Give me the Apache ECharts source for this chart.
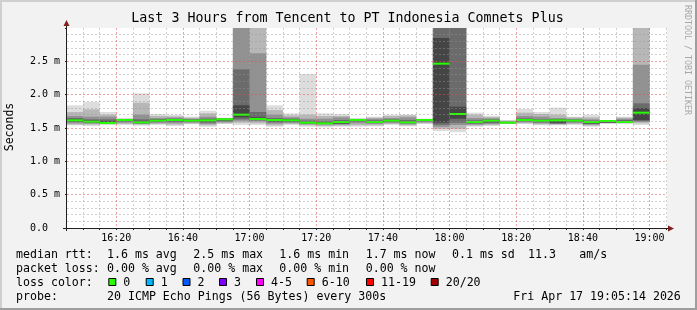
<!DOCTYPE html>
<html><head><meta charset="utf-8">
<script src="https://cdn.jsdelivr.net/npm/echarts@6/dist/echarts.min.js"></script>
<style>html,body{margin:0;padding:0;background:#f2f2f2}#c{width:697px;height:310px}</style>
</head><body><div id="c"></div><script>
// ---- data (ms) ----
const endTimes = ['16:10','16:15','16:20','16:25','16:30','16:35','16:40','16:45','16:50','16:55',
  '17:00','17:05','17:10','17:15','17:20','17:25','17:30','17:35','17:40','17:45','17:50','17:55',
  '18:00','18:05','18:10','18:15','18:20','18:25','18:30','18:35','18:40','18:45','18:50','18:55','19:00'];
const stepMinutes = 5;
const rangeStart = '16:05:14';
const rangeEnd = '19:05:14';
const median = [1.615,1.595,1.575,1.62,1.585,1.61,1.62,1.61,1.615,1.63, 1.70,1.635,1.62,1.615,1.58,1.57,1.59,1.62,1.59,1.61, 1.585,1.62,2.465,1.71,1.59,1.61,1.58,1.62,1.61,1.615, 1.61,1.59,1.605,1.59,1.73];
const loss = [0,0,0,0,0,0,0,0,0,0, 0,0,0,0,0,0,0,0,0,0, 0,0,0,0,0,0,0,0,0,0, 0,0,0,0,0];
const pingMin = [1.54,1.53,1.55,1.545,1.535,1.545,1.53,1.555,1.52,1.56, 1.545,1.545,1.52,1.545,1.52,1.51,1.52,1.52,1.525,1.545, 1.525,1.56,1.455,1.435,1.52,1.53,1.56,1.56,1.54,1.54, 1.545,1.52,1.565,1.565,1.545];
const pingMax = [1.84,1.89,1.74,1.645,2.02,1.71,1.70,1.67,1.76,1.655, 3.5,3.5,1.84,1.72,2.31,1.72,1.71,1.645,1.67,1.70, 1.70,1.64,3.5,3.5,1.73,1.685,1.62,1.785,1.74,1.805, 1.67,1.70,1.62,1.67,3.5];
const smoke2Lo = [1.55,1.55,1.555,1.56,1.55,1.56,1.55,1.565,1.54,1.57, 1.58,1.57,1.54,1.56,1.54,1.53,1.535,1.54,1.54,1.56, 1.54,1.57,1.49,1.49,1.535,1.545,1.565,1.57,1.555,1.55, 1.56,1.535,1.57,1.57,1.57];
const smoke2Hi = [1.74,1.78,1.70,1.64,1.88,1.68,1.675,1.655,1.72,1.65, 3.5,3.5,1.77,1.69,1.70,1.68,1.68,1.64,1.655,1.68, 1.69,1.636,3.5,3.5,1.70,1.665,1.61,1.73,1.71,1.70, 1.66,1.66,1.618,1.655,3.5];
const smoke3Lo = [1.57,1.565,1.56,1.58,1.56,1.575,1.57,1.58,1.56,1.585, 1.61,1.60,1.565,1.575,1.555,1.55,1.55,1.57,1.56,1.575, 1.555,1.585,1.52,1.545,1.55,1.56,1.57,1.585,1.57,1.56, 1.575,1.55,1.575,1.575,1.59];
const smoke3Hi = [1.68,1.67,1.67,1.635,1.70,1.65,1.655,1.64,1.67,1.645, 3.5,2.62,1.70,1.66,1.64,1.64,1.66,1.635,1.64,1.65, 1.66,1.633,3.5,3.5,1.65,1.645,1.60,1.68,1.67,1.65, 1.64,1.63,1.615,1.64,2.45];
const smoke4Lo = [1.59,1.575,1.565,1.595,1.57,1.59,1.59,1.59,1.58,1.60, 1.63,1.615,1.585,1.59,1.565,1.56,1.56,1.595,1.575,1.59, 1.57,1.60,1.55,1.58,1.565,1.575,1.572,1.60,1.585,1.565, 1.59,1.56,1.578,1.58,1.605];
const smoke4Hi = [1.65,1.63,1.63,1.63,1.63,1.635,1.64,1.63,1.64,1.64, 2.38,1.74,1.65,1.64,1.61,1.60,1.62,1.63,1.615,1.63, 1.62,1.63,3.5,3.5,1.615,1.63,1.59,1.645,1.63,1.635, 1.625,1.61,1.612,1.62,1.87];
const smoke5Lo = [1.60,1.585,1.57,1.605,1.578,1.60,1.605,1.60,1.60,1.615, 1.66,1.625,1.60,1.60,1.572,1.565,1.57,1.61,1.582,1.60, 1.578,1.61,1.58,1.64,1.578,1.59,1.575,1.61,1.598,1.58, 1.60,1.57,1.585,1.585,1.62];
const smoke5Hi = [1.63,1.61,1.60,1.625,1.60,1.62,1.63,1.62,1.625,1.635, 1.84,1.66,1.63,1.625,1.59,1.58,1.60,1.625,1.60,1.62, 1.595,1.628,2.85,1.82,1.60,1.62,1.585,1.63,1.62,1.625, 1.62,1.60,1.61,1.60,1.80];
const xTickLabels = ['16:20','16:40','17:00','17:20','17:40','18:00','18:20','18:40','19:00'];
const yTickLabels = ['0.0','0.5 m','1.0 m','1.5 m','2.0 m','2.5 m'];
const titleText = 'Last 3 Hours from Tencent to PT Indonesia Comnets Plus';
const yName = 'Seconds';
const rttLabel = 'median rtt:';
const rttStats = ['1.6 ms avg','2.5 ms max','1.6 ms min','1.7 ms now','0.1 ms sd','11.3','am/s'];
const lossLabel = 'packet loss:';
const lossStats = ['0.00 % avg','0.00 % max','0.00 % min','0.00 % now'];
const lossColorLabel = 'loss color:';
const lossLegend = ['0','1','2','3','4-5','6-10','11-19','20/20'];
const lossLimits = [0,1,2,3,5,10,19,20];
const lossColors = ['#26ff00','#00b8ff','#0059ff','#7e00ff','#ff00ff','#ff5500','#ff0000','#a10000'];
const probeLabel = 'probe:';
const probeText = '20 ICMP Echo Pings (56 Bytes) every 300s';
const dateText = 'Fri Apr 17 19:05:14 2026';
const sideText = 'RRDTOOL / TOBI OETIKER';

// ---- helpers ----
function toMin(s){const p=s.split(':').map(Number);return p[0]*60+p[1]+(p[2]||0)/60;}
function fmtMin(v){const h=Math.floor(v/60),m=Math.round(v-h*60);return (h<10?'0':'')+h+':'+(m<10?'0':'')+m;}
const xMin = toMin(rangeStart), xMax = toMin(rangeEnd);
const majorTicks = xTickLabels.map(toMin);
const minorTicks = [];
for (let t = Math.ceil(xMin/stepMinutes)*stepMinutes; t <= xMax; t += stepMinutes) minorTicks.push(t);

const FONT = 'DejaVu Sans Mono';
const GRID = {left:67, top:28, width:600, height:200};
const minorCol = 'rgba(150,150,150,0.45)';
const majorCol = 'rgba(225,80,80,0.55)';
const splitColors = minorTicks.map(t => majorTicks.indexOf(t) >= 0 ? majorCol : minorCol);

function rectItem(params, api){
  const a = api.coord([api.value(0), api.value(3)]);
  const b = api.coord([api.value(1), api.value(2)]);
  return {type:'rect', shape:{x:a[0], y:a[1], width:b[0]-a[0], height:b[1]-a[1]}, style:{fill:api.visual('color')}};
}
function smoke(lo, hi, color){
  return {type:'custom', clip:true, silent:true, z:2, itemStyle:{color:color},
    encode:{x:[0,1], y:[2,3]},
    data: endTimes.map((t,i)=>[toMin(t)-stepMinutes, toMin(t), lo[i], hi[i]]),
    renderItem: rectItem};
}
function lossColor(l){for(let i=0;i<lossLimits.length;i++){if(l<=lossLimits[i])return lossColors[i];}return lossColors[lossColors.length-1];}

const series = [
  smoke(pingMin, pingMax, '#dddddd'),
  smoke(smoke2Lo, smoke2Hi, '#b7b7b7'),
  smoke(smoke3Lo, smoke3Hi, '#919191'),
  smoke(smoke4Lo, smoke4Hi, '#6b6b6b'),
  smoke(smoke5Lo, smoke5Hi, '#454545'),
  {type:'custom', clip:true, silent:true, z:2, encode:{x:[0,1], y:2},
   data: endTimes.map((t,i)=>[toMin(t)-stepMinutes, toMin(t), median[i], loss[i]]),
   renderItem:(params, api)=>{
     const a = api.coord([api.value(0), api.value(2)]);
     const b = api.coord([api.value(1), api.value(2)]);
     return {type:'line', shape:{x1:a[0], y1:a[1], x2:b[0], y2:b[1]},
       style:{stroke:lossColor(api.value(3)), lineWidth:2}};
   }}
];

const txt = (text, x, y, opt) => Object.assign({type:'text', x:x, y:y, silent:true,
  style:Object.assign({text:text, fill:'#000', font:'11.6px "'+FONT+'"', align:'left', verticalAlign:'middle', textAlign:'left', textVerticalAlign:'middle'}, (opt&&opt.style)||{})},
  opt&&opt.el||{});

const statX = [107,193.3,279.3,365.7,452,528,579.3];
const boxX = [108.3,145.7,182.5,219,256,306.7,366,430.7];
const rowY = [254.8,268.5,282.5,296.5];
const graphics = [
  {type:'rect', shape:{x:0,y:0,width:697,height:2}, style:{fill:'#cfcfcf'}},
  {type:'rect', shape:{x:0,y:0,width:2,height:310}, style:{fill:'#cfcfcf'}},
  {type:'rect', shape:{x:0,y:308,width:697,height:2}, style:{fill:'#9e9e9e'}},
  {type:'rect', shape:{x:695,y:0,width:2,height:310}, style:{fill:'#9e9e9e'}},
  {type:'line', shape:{x1:63,y1:228.5,x2:669,y2:228.5}, style:{stroke:'#1f1f1f', lineWidth:1}},
  {type:'line', shape:{x1:66.5,y1:231,x2:66.5,y2:25}, style:{stroke:'#1f1f1f', lineWidth:1}},
  {type:'polygon', shape:{points:[[668,225.5],[668,231.5],[674,228.5]]}, style:{fill:'#7f1f1f'}},
  {type:'polygon', shape:{points:[[63.5,26],[69.5,26],[66.5,20]]}, style:{fill:'#7f1f1f'}},
  txt(titleText, 347.5, 19, {style:{font:'13.3px "'+FONT+'"', align:'center', textAlign:'center'}}),
  txt(yName, 10, 127, {el:{rotation:Math.PI/2}, style:{font:'11.5px "'+FONT+'"', align:'center', textAlign:'center'}}),
  txt(sideText, 687.5, 5, {el:{rotation:-Math.PI/2}, style:{font:'8.3px "'+FONT+'"', fill:'#a8a8a8'}}),
  txt(rttLabel, 16, rowY[0]),
  txt(lossLabel, 16, rowY[1]),
  txt(lossColorLabel, 16, rowY[2]),
  txt(probeLabel, 16, rowY[3]),
  txt(probeText, 107, rowY[3]),
  txt(dateText, 513.3, rowY[3])
];
rttStats.forEach((s,i)=>graphics.push(txt(s, statX[i], rowY[0])));
lossStats.forEach((s,i)=>graphics.push(txt(s, statX[i], rowY[1])));
lossLegend.forEach((s,i)=>{
  graphics.push({type:'rect', shape:{x:boxX[i]+0.5, y:278.5, width:7, height:7}, style:{fill:lossColors[i], stroke:'#000', lineWidth:1}});
  graphics.push(txt(s, boxX[i]+15, rowY[2]));
});

const chart = echarts.init(document.getElementById('c'), null, {renderer:'canvas'});
chart.setOption({
  animation:false,
  backgroundColor:'#f2f2f2',
  grid:Object.assign({show:true, backgroundColor:'#ffffff', borderWidth:0, containLabel:false}, GRID),
  xAxis:{type:'value', min:xMin, max:xMax, z:3,
    axisLine:{show:false},
    axisTick:{show:true, length:2, customValues:minorTicks, lineStyle:{color:'#1f1f1f'}},
    axisLabel:{show:true, customValues:majorTicks, formatter:v=>fmtMin(v), margin:10, verticalAlign:'middle',
      fontFamily:FONT, fontSize:10, color:'#000'},
    splitLine:{show:true, lineStyle:{color:splitColors, type:[2,2], width:1}},
    minorTick:{show:false}, minorSplitLine:{show:false}},
  yAxis:{type:'value', min:0, max:3, interval:0.5, z:3,
    axisLine:{show:false},
    axisTick:{show:true, length:2, lineStyle:{color:'#1f1f1f'}},
    minorTick:{show:true, splitNumber:5, length:1, lineStyle:{color:'#1f1f1f'}},
    axisLabel:{show:true, formatter:v=>{const k=Math.round(v/0.5);return (k<yTickLabels.length && Math.abs(v-k*0.5)<1e-9)?yTickLabels[k]:'';},
      align:'left', margin:37, fontFamily:FONT, fontSize:10, color:'#000'},
    splitLine:{show:true, showMaxLine:false, showMinLine:false, lineStyle:{color:majorCol, type:[2,2], width:1}},
    minorSplitLine:{show:true, lineStyle:{color:minorCol, type:[2,2], width:1}}},
  series:series,
  graphic:{elements:graphics}
});
</script></body></html>
